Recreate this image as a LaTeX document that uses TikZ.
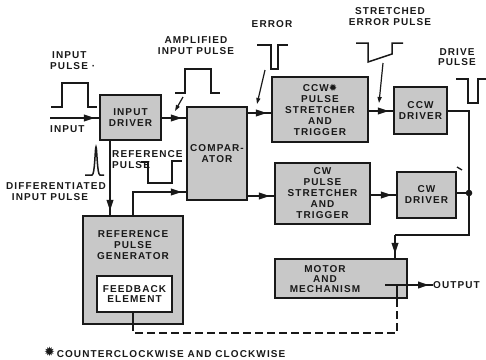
\documentclass[tikz,border=0pt]{standalone}
\usepackage{fontspec}
\setmainfont{Liberation Sans}[LetterSpace=11]
\newfontfamily\symfont{DejaVu Sans}
\usetikzlibrary{arrows.meta,decorations.markings}
\definecolor{ink}{RGB}{25,25,25}
\definecolor{boxgray}{RGB}{200,200,200}
\newcommand{\lblfont}{\fontsize{10}{11}\selectfont\bfseries}
\newcommand{\burst}{{\symfont\fontsize{10}{11}\selectfont ✹}}
\newcommand{\bigburst}{{\symfont\fontsize{13}{13}\selectfont ✹}}
\tikzset{
  blk/.style={draw=ink, line width=2.2pt, fill=boxgray, inner sep=0pt, align=center,
              font=\lblfont, text=ink},
  txt/.style={inner sep=0pt, font=\lblfont, text=ink},
  conn/.style={draw=ink, line width=2.2pt},
  arr/.style={postaction={decorate}, decoration={markings,
      mark=at position -4pt with {\arrow{Triangle[length=11pt,width=6.5pt]}}}},
  wave/.style={draw=ink, line width=1.5pt},
  pointer/.style={draw=ink, line width=1.2pt, -{Triangle[length=6pt,width=4pt]}},
  dashline/.style={draw=ink, line width=1.8pt, dash pattern=on 8pt off 4pt},
}
\begin{document}
\begin{tikzpicture}[x=1pt,y=-1pt]
\useasboundingbox (0,0) rectangle (486,359);
% boxes
\node[blk, minimum width=61pt, minimum height=45pt] (indrv) at (130.5,117.5) {INPUT\\DRIVER};
\node[blk, minimum width=60pt, minimum height=93pt] (comp) at (217,153.5) {COMPAR-\\ATOR};
\node[blk, minimum width=96pt, minimum height=65pt] (ccwps) at (320,109.5) {CCW\burst\\PULSE\\STRETCHER\\AND\\TRIGGER};
\node[blk, minimum width=53pt, minimum height=47pt] (ccwdrv) at (420.5,110.5) {CCW\\DRIVER};
\node[blk, minimum width=95pt, minimum height=61pt] (cwps) at (322.5,193.5) {CW\\PULSE\\STRETCHER\\AND\\TRIGGER};
\node[blk, minimum width=59pt, minimum height=46pt] (cwdrv) at (426.5,195) {CW\\DRIVER};
\node[blk, minimum width=132pt, minimum height=39pt] (motor) at (341,278.5) {};
\node[txt, align=center, font=\fontsize{10}{10}\selectfont\bfseries] (motorlbl) at (325,279) {MOTOR\\AND\\MECHANISM};
\node[blk, minimum width=100pt, minimum height=108pt] (refgen) at (133,270) {};
\node[txt, align=center] (refgenlbl) at (133,245.5) {REFERENCE\\PULSE\\GENERATOR};
\node[blk, fill=white, minimum width=75pt, minimum height=36pt, font=\fontsize{10}{10.5}\selectfont\bfseries] (feedback) at (134.5,294) {FEEDBACK\\ELEMENT};

% coordinates
\coordinate (inp) at (50,118);
\coordinate (j1) at (469,111);
\coordinate (dot) at (469,193);
\coordinate (j2) at (469,235);
\coordinate (j3) at (395,235);
\coordinate (shaft) at (385,285);
\coordinate (fbk) at (397,285);
\coordinate (d1) at (397,333);
\coordinate (d2) at (133,333);
\coordinate (rg1) at (133,192);

% connectors
\draw[conn, arr] (inp) -- (inp -| indrv.west);
\draw[conn, arr] (indrv.east |- inp) -- (comp.west |- inp);
\draw[conn, arr] (comp.east |- 0,113) -- (ccwps.west |- 0,113);
\draw[conn, arr] (comp.east |- 0,196) -- (cwps.west |- 0,196);
\draw[conn, arr] (ccwps.east |- 0,111) -- (ccwdrv.west |- 0,111);
\draw[conn, arr] (cwps.east |- 0,195) -- (cwdrv.west |- 0,195);
\draw[conn] (ccwdrv.east |- j1) -- (j1) -- (j2) -- (j3);
\draw[conn, arr] (j3) -- (j3 |- motor.north);
\draw[conn] (cwdrv.east |- dot) -- (dot);
\fill[ink] (dot) circle (3.3pt);
\draw[conn, arr] (indrv.south -| 110,0) -- (refgen.north -| 110,0);
\draw[conn, arr] (refgen.north) -- (rg1) -- (comp.west |- rg1);
\node[txt] (outlbl) at (456.5,285) {OUTPUT};
\draw[conn, arr] (shaft) -- (outlbl.west);
\draw[conn] (fbk) -- (fbk |- motor.south);
\draw[dashline] (fbk |- motor.south) -- (d1) -- (d2) -- (refgen.south);
\draw[conn] (refgen.south |- feedback.south) -- (refgen.south);

% waveforms
\draw[wave] (51,107) -- (62,107) -- (62,83) -- (88,83) -- (88,107) -- (97,107);
\draw[wave] (175,93) -- (185,93) -- (185,69) -- (211,69) -- (211,93) -- (220,93);
\draw[wave] (257,45) -- (271,45) -- (271,69) -- (278,69) -- (278,45) -- (288,45);
\draw[wave] (356,43) -- (368,43) -- (368,62) -- (392,54) -- (392,43) -- (403,43);
\draw[wave] (456,79) -- (468,79) -- (468,103) -- (478,103) -- (478,79) -- (486,79);
\draw[wave] (141,162) -- (148,162) -- (148,183) -- (172,183) -- (172,161) -- (182,161);
\draw[wave] (85,175) -- (92,175) .. controls (95,175) and (95,147) .. (96,147)
            .. controls (97,147) and (97,175) .. (100,175) -- (104,175);

% pointers
\draw[pointer] (183,97) -- (175,111);
\draw[pointer] (265,70) -- (257,104);
\draw[pointer] (383,63) -- (379,103);
\draw[draw=ink, line width=1.3pt] (457,167) -- (462,170);

% labels
\node[txt, align=left, anchor=west] (lblinpulse) at (50,60.5) {\hspace*{2pt}INPUT\\PULSE\ ·};
\node[txt, anchor=west] (lblinput) at (50,129) {INPUT};
\node[txt, align=center] (lblamp) at (196,46) {AMPLIFIED\\INPUT PULSE};
\node[txt] (lblerr) at (272,24) {ERROR};
\node[txt, align=center] (lblstr) at (390,17) {STRETCHED\\ERROR PULSE};
\node[txt, align=center, font=\fontsize{10}{10}\selectfont\bfseries] (lbldrive) at (457,57) {DRIVE\\PULSE};
\node[txt, align=left, anchor=west] (lblref) at (112,159.5) {REFERENCE\\PULSE};
\node[txt, align=center] (lbldiff) at (56,191.5) {DIFFERENTIATED\\INPUT PULSE\hspace*{12pt}};
\node[txt, anchor=west] (foot) at (44,352) {\raisebox{0.5pt}{\bigburst}\,COUNTERCLOCKWISE AND CLOCKWISE};
\end{tikzpicture}
\end{document}
